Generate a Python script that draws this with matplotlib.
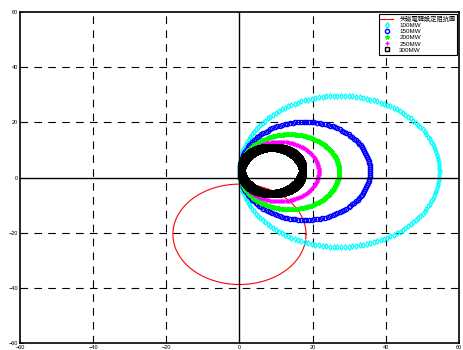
import numpy as np
import matplotlib
matplotlib.use("Agg")
import matplotlib.pyplot as plt

plt.rcParams['font.family'] = ['Liberation Sans', 'Noto Sans CJK TC', 'DejaVu Sans']
plt.rcParams['lines.scale_dashes'] = False

# Loss-of-excitation relay setting circle (center R, center X, radius)
relay_label = "失磁電驛設定阻抗圓"
relay_center = [0.0, -20.6]
relay_radius = 18.2

# Generator operating-limit circles for each load level
load_labels = ["100MW", "150MW", "200MW", "250MW", "300MW"]
center_r = [27.3, 17.9, 13.65, 10.9, 9.0]
center_x = [2.2, 2.4, 2.1, 2.15, 2.4]
radius = [27.4, 17.8, 13.6, 10.8, 8.4]
n_points = [170, 150, 240, 240, 360]
colors = ["cyan", "blue", "lime", "magenta", "black"]
markers = ["d", "o", "*", "+", "s"]
marker_sizes = [2.8, 3.0, 3.4, 3.3, 4.0]
edge_widths = [0.9, 1.0, 0.9, 1.0, 1.3]

ticks = [-60, -40, -20, 0, 20, 40, 60]

fig = plt.figure(figsize=(4.63, 3.5), dpi=100)
ax = fig.add_axes([0.0432, 0.02, 0.948, 0.9457])

t = np.linspace(0, 2 * np.pi, 400)
ax.plot(relay_center[0] + relay_radius * np.cos(t),
        relay_center[1] + relay_radius * np.sin(t),
        color="red", lw=0.8, label=relay_label, zorder=3)

for cr, cx, r, n, c, m, ms, mew, lab in zip(center_r, center_x, radius, n_points,
                                            colors, markers, marker_sizes,
                                            edge_widths, load_labels):
    a = np.linspace(0, 2 * np.pi, n, endpoint=False)
    ax.plot(cr + r * np.cos(a), cx + r * np.sin(a), linestyle="none",
            marker=m, markersize=ms, markerfacecolor="none",
            markeredgecolor=c, markeredgewidth=mew, label=lab, zorder=4)

# dashed grid and solid zero axes
for v in [-40, -20, 20, 40]:
    ax.axvline(v, color="black", lw=0.8, dashes=(5.5, 4.5), zorder=2)
    ax.axhline(v, color="black", lw=0.8, dashes=(5.5, 4.5), zorder=2)
ax.axvline(0, color="black", lw=1.0, zorder=5)
ax.axhline(0, color="black", lw=1.0, zorder=5)

ax.set_xlim(-60, 60)
ax.set_ylim(-60, 60)
ax.set_xticks(ticks)
ax.set_yticks(ticks)
ax.tick_params(direction="in", length=2, width=0.6, labelsize=4, pad=1.5)
for s in ax.spines.values():
    s.set_linewidth(1.2)

leg = ax.legend(loc="upper right", fontsize=4.5, frameon=True, fancybox=False,
                edgecolor="black", framealpha=1, handlelength=2.0,
                borderpad=0.3, labelspacing=0.12, handletextpad=1.0,
                borderaxespad=0.25)
leg.get_frame().set_linewidth(0.8)
for h in leg.legend_handles:
    try:
        h.set_markersize(3)
        h.set_markeredgewidth(1.0)
    except AttributeError:
        pass

fig.savefig("out.png", dpi=100)
